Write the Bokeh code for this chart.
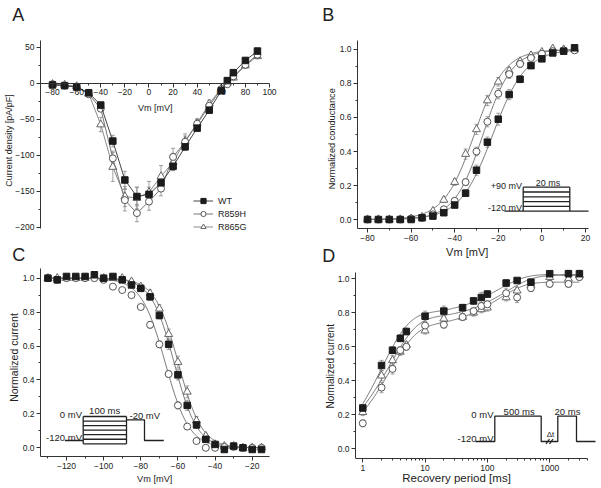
import math
import numpy as np
from bokeh.plotting import figure
from bokeh.models import (Range1d, Whisker, ColumnDataSource, Label, Legend, LegendItem,
                          FixedTicker, PrintfTickFormatter, TeeHead)
from bokeh.layouts import row, column
from bokeh.embed import file_html
from bokeh.resources import INLINE

FONT = "Liberation Sans"
TXT = "#222222"
AXC = "#333333"
FIT = "#6a6a6a"
ERR = "#8a8a8a"
INS = "#222222"

series = ["WT", "R859H", "R865G"]
markers = ["square", "circle", "triangle"]
fills = ["#1c1c1c", "white", "white"]
edges = ["#1c1c1c", "#555555", "#666666"]
msizes = [6.5, 7, 8]
line_cols = ["#444444", "#777777", "#8a8a8a"]

# ---------------- Panel A: current density vs voltage ----------------
a_vm = [-80, -70, -60, -50, -40, -30, -20, -10, 0, 10, 20, 30, 40, 50, 60, 65, 70, 80, 90]
a_wt = [-2, -3, -5, -13, -30, -80, -134, -157, -154, -138, -115, -88, -62, -37, -10, 4, 15, 32, 45]
a_r859h = [-1, -3, -5, -15, -35, -104, -162, -180, -164, -146, -102, -81, -56, -31, -8, -1, 10, 26, 40]
a_r865g = [-1, -2, -4, -14, -57, -116, -157, -159, -151, -129, -109, -80, -55, -28, -7, 1, 8, 25, 38]
a_wt_err = [1, 1, 1, 2, 3, 8, 12, 13, 10, 10, 6, 5, 4, 3, 3, 2, 3, 4, 4]
a_r859h_err = [1, 1, 1, 2, 4, 10, 15, 12, 12, 10, 12, 8, 6, 4, 3, 2, 3, 4, 4]
a_r865g_err = [1, 1, 1, 2, 10, 20, 14, 15, 15, 15, 12, 10, 6, 5, 3, 2, 3, 4, 4]

# ---------------- Panel B: activation ----------------
b_vm = [-80, -75, -70, -65, -60, -55, -50, -45, -40, -35, -30, -25, -20, -15, -10, -5, 0, 5, 10, 15]
b_wt = [0.0, 0.0, 0.0, 0.0, 0.0, 0.01, 0.02, 0.04, 0.085, 0.155, 0.29, 0.455, 0.59, 0.735, 0.825, 0.905, 0.945, 0.98, 0.99, 1.01]
b_r859h = [0.0, 0.0, 0.0, 0.0, 0.005, 0.01, 0.03, 0.06, 0.11, 0.22, 0.40, 0.575, 0.74, 0.855, 0.915, 0.95, 0.975, 0.99, 0.995, 0.995]
b_r865g = [0.0, 0.0, 0.0, 0.0, 0.005, 0.015, 0.05, 0.115, 0.22, 0.385, 0.53, 0.70, 0.81, 0.875, 0.93, 0.965, 0.985, 1.005, 1.0, 1.0]
b_wt_err = [0.005, 0.005, 0.005, 0.005, 0.005, 0.005, 0.01, 0.01, 0.015, 0.02, 0.03, 0.03, 0.035, 0.03, 0.02, 0.015, 0.01, 0.01, 0.005, 0.005]
b_r859h_err = [0.005, 0.005, 0.005, 0.005, 0.005, 0.005, 0.01, 0.01, 0.015, 0.02, 0.025, 0.03, 0.03, 0.025, 0.02, 0.015, 0.01, 0.01, 0.005, 0.005]
b_r865g_err = [0.005, 0.005, 0.005, 0.005, 0.005, 0.005, 0.01, 0.015, 0.02, 0.03, 0.03, 0.03, 0.025, 0.02, 0.015, 0.01, 0.01, 0.01, 0.005, 0.005]
b_vhalf = [-22.5, -27.0, -31.0]
b_slope = [7.5, 6.6, 7.0]

# ---------------- Panel C: steady-state inactivation ----------------
c_vm = [-130, -125, -120, -115, -110, -105, -100, -95, -90, -85, -80, -75, -70, -65, -60, -55, -50, -45, -40, -35, -30, -25, -20, -15]
c_wt = [1.0, 0.99, 1.01, 1.01, 1.01, 1.02, 1.0, 1.01, 0.99, 0.96, 0.94, 0.89, 0.78, 0.61, 0.43, 0.25, 0.135, 0.05, 0.02, -0.01, 0.01, 0.0, -0.01, -0.01]
c_r859h = [1.0, 0.99, 1.0, 1.0, 1.0, 1.0, 0.99, 0.95, 0.93, 0.90, 0.83, 0.725, 0.61, 0.435, 0.25, 0.125, 0.04, 0.0, 0.0, 0.005, 0.005, 0.0, 0.0, 0.0]
c_r865g = [1.0, 1.0, 1.0, 1.0, 1.0, 1.01, 1.0, 1.0, 1.0, 0.98, 0.95, 0.91, 0.82, 0.67, 0.505, 0.33, 0.16, 0.07, 0.02, 0.01, 0.01, 0.0, 0.0, 0.0]
c_wt_err = [0.01, 0.01, 0.01, 0.01, 0.01, 0.01, 0.01, 0.01, 0.01, 0.015, 0.015, 0.02, 0.02, 0.03, 0.03, 0.03, 0.02, 0.015, 0.01, 0.01, 0.01, 0.01, 0.01, 0.01]
c_r859h_err = [0.01, 0.01, 0.01, 0.01, 0.01, 0.01, 0.01, 0.01, 0.01, 0.01, 0.015, 0.02, 0.02, 0.02, 0.02, 0.015, 0.01, 0.01, 0.01, 0.01, 0.01, 0.01, 0.01, 0.01]
c_r865g_err = [0.01, 0.01, 0.01, 0.01, 0.01, 0.01, 0.01, 0.01, 0.01, 0.015, 0.015, 0.02, 0.025, 0.03, 0.035, 0.035, 0.025, 0.015, 0.01, 0.01, 0.01, 0.01, 0.01, 0.01]
c_vhalf = [-62.0, -66.8, -59.8]
c_slope = [6.2, 6.5, 6.3]

# ---------------- Panel D: recovery from inactivation ----------------
d_t = [1, 2, 3, 4, 5, 10, 20, 40, 60, 80, 100, 200, 300, 500, 1000, 2000, 3000]
d_wt = [0.24, 0.49, 0.58, 0.65, 0.69, 0.78, 0.81, 0.83, 0.87, 0.89, 0.91, 0.975, 0.99, 0.98, 1.03, 1.03, 1.03]
d_r859h = [0.15, 0.36, 0.47, 0.58, 0.60, 0.725, 0.73, 0.775, 0.81, 0.84, 0.85, 0.915, 0.89, 0.945, 0.97, 0.97, 1.01]
d_r865g = [0.215, 0.43, 0.52, 0.57, 0.61, 0.695, 0.765, 0.775, 0.80, 0.82, 0.83, 0.89, 0.93, 0.96, 1.01, 1.0, 1.02]
d_wt_err = [0.02, 0.03, 0.02, 0.02, 0.02, 0.03, 0.03, 0.02, 0.02, 0.03, 0.02, 0.02, 0.01, 0.02, 0.01, 0.02, 0.02]
d_r859h_err = [0.02, 0.03, 0.03, 0.02, 0.02, 0.02, 0.02, 0.02, 0.02, 0.02, 0.02, 0.03, 0.03, 0.02, 0.02, 0.02, 0.02]
d_r865g_err = [0.02, 0.03, 0.03, 0.02, 0.02, 0.02, 0.02, 0.02, 0.02, 0.02, 0.02, 0.02, 0.02, 0.02, 0.02, 0.02, 0.02]
d_plateau = [1.025, 0.98, 1.02]
d_amp_fast = [0.86, 0.726, 0.75]
d_tau_fast = [2.0, 2.64, 2.67]
d_amp_slow = [0.24, 0.269, 0.26]
d_tau_slow = [150.0, 150.0, 200.0]

# ---------------- layout geometry (picture pixels) ----------------
# page: figure rectangle (left, top, width, height); frame: axis box (L, R, T, B)
GA = dict(page=(0, 0, 300, 240), frame=(40, 269, 40, 228), x=(-90.0, 100.0), y=(-201.4, 59.7), log=False)
GB = dict(page=(300, 0, 300, 268), frame=(357, 588, 40, 228), x=(-84.6, 21.4), y=(-0.0529, 1.0529), log=False)
GC = dict(page=(0, 240, 300, 247), frame=(40, 269, 268, 456), x=(-134.0, -10.7), y=(-0.0513, 1.057), log=False)
GD = dict(page=(300, 268, 300, 219), frame=(355, 587, 272, 458), x=(0.764, 4045.0), y=(-0.057, 1.037), log=True)


def to_data(g, px, py):
    L, R, T, B = g["frame"]
    x0, x1 = g["x"]
    y0, y1 = g["y"]
    if g["log"]:
        l0, l1 = math.log10(x0), math.log10(x1)
        x = 10 ** (l0 + (px - L) / (R - L) * (l1 - l0))
    else:
        x = x0 + (px - L) / (R - L) * (x1 - x0)
    y = y1 - (py - T) / (B - T) * (y1 - y0)
    return x, y


def make_panel(g, x_axis_at=None):
    pl, pt, w, h = g["page"]
    xs, ye = to_data(g, pl, pt)
    xe, ys = to_data(g, pl + w, pt + h)
    p = figure(width=w, height=h, x_range=Range1d(xs, xe), y_range=Range1d(ys, ye),
               x_axis_type="log" if g["log"] else "linear",
               output_backend="svg", toolbar_location=None,
               min_border=0, min_border_left=0, min_border_right=0,
               min_border_top=0, min_border_bottom=0)
    p.grid.visible = False
    p.outline_line_color = None
    p.background_fill_color = "white"
    p.border_fill_color = "white"
    x0, x1 = g["x"]
    y0, y1 = g["y"]
    p.xaxis.fixed_location = y0 if x_axis_at is None else x_axis_at
    p.xaxis.bounds = (x0, x1)
    p.yaxis.fixed_location = x0
    p.yaxis.bounds = (y0, y1)
    for ax in (p.xaxis[0], p.yaxis[0]):
        ax.axis_line_color = AXC
        ax.axis_line_width = 1
        ax.major_tick_line_color = AXC
        ax.minor_tick_line_color = AXC
        ax.major_tick_in = 0
        ax.major_tick_out = 4
        ax.minor_tick_in = 0
        ax.minor_tick_out = 2
        ax.major_label_text_font = FONT
        ax.major_label_text_font_size = "8.5px"
        ax.major_label_text_color = TXT
        ax.major_label_standoff = 2
    return p


def add_text(p, g, text, px, py, size, align="center", angle=0.0):
    """(px, py): picture position of the text baseline; rendered centred on the caps."""
    s = float(size.replace("px", ""))
    off = 0.35 * s
    if angle == 0.0:
        py = py - off
    else:
        px = px - off
    x, y = to_data(g, px, py)
    p.add_layout(Label(x=x, y=y, text=text, text_font=FONT, text_font_size=size,
                       text_color=TXT, text_align=align, text_baseline="middle", angle=angle))


def add_err(p, x, y, e):
    src = ColumnDataSource(dict(x=x, lower=[a - b for a, b in zip(y, e)],
                                upper=[a + b for a, b in zip(y, e)]))
    p.add_layout(Whisker(source=src, base="x", lower="lower", upper="upper",
                         line_color=ERR, line_width=0.8,
                         upper_head=TeeHead(size=4, line_color=ERR, line_width=0.8),
                         lower_head=TeeHead(size=4, line_color=ERR, line_width=0.8)))


def add_points(p, i, x, y):
    return p.scatter(x, y, marker=markers[i], size=msizes[i], fill_color=fills[i],
                     line_color=edges[i], line_width=1)


def add_inset(p, g, paths, texts, size):
    xs, ys = [], []
    for path in paths:
        pts = [to_data(g, a, b) for a, b in path]
        xs.append([q[0] for q in pts])
        ys.append([q[1] for q in pts])
    p.multi_line(xs, ys, line_color=INS, line_width=1.3)
    for t, px, py, al in texts:
        add_text(p, g, t, px, py, size, align=al)


major_y01 = [0.0, 0.2, 0.4, 0.6, 0.8, 1.0]
minor_y01 = [0.1, 0.3, 0.5, 0.7, 0.9]

# ================= Panel A =================
pA = make_panel(GA, x_axis_at=0)
pA.xaxis.ticker = FixedTicker(ticks=list(range(-80, 101, 20)), minor_ticks=list(range(-90, 100, 20)))
pA.yaxis.ticker = FixedTicker(ticks=[-200, -150, -100, -50, 0, 50], minor_ticks=[-175, -125, -75, -25, 25])
a_sets = [(a_wt, a_wt_err), (a_r859h, a_r859h_err), (a_r865g, a_r865g_err)]
legend_items = []
for i in (2, 1, 0):
    y, e = a_sets[i]
    add_err(pA, a_vm, y, e)
for i in (2, 1, 0):
    y, e = a_sets[i]
    ln = pA.line(a_vm, y, line_color=line_cols[i], line_width=1)
    sc = add_points(pA, i, a_vm, y)
    legend_items.append((i, LegendItem(label=series[i], renderers=[ln, sc])))
legend_items.sort(key=lambda t: t[0])
leg = Legend(items=[it for _, it in legend_items], location=(193, 7), orientation="vertical",
             padding=0, margin=0, spacing=0, glyph_width=20, glyph_height=13, label_height=13,
             label_standoff=5, label_text_font=FONT, label_text_font_size="9px",
             label_text_color=TXT, border_line_color=None, background_fill_alpha=0)
pA.add_layout(leg)
add_text(pA, GA, "A", 11.7, 20.7, "18px", align="left")
add_text(pA, GA, "Vm [mV]", 154.8, 111, "9px")
add_text(pA, GA, "Current density [pA/pF]", 11.4, 140, "9px", angle=math.pi / 2)

# ================= Panel B =================
pB = make_panel(GB)
pB.xaxis.ticker = FixedTicker(ticks=list(range(-80, 21, 20)), minor_ticks=list(range(-70, 20, 20)))
pB.yaxis.ticker = FixedTicker(ticks=major_y01, minor_ticks=minor_y01)
pB.yaxis.formatter = PrintfTickFormatter(format="%.1f")
b_fit_v = np.linspace(-80, 15, 240)
for i in range(3):
    g_fit = 1.0 / (1.0 + np.exp((b_vhalf[i] - b_fit_v) / b_slope[i]))
    pB.line(b_fit_v, g_fit, line_color=FIT, line_width=0.9)
b_sets = [(b_wt, b_wt_err), (b_r859h, b_r859h_err), (b_r865g, b_r865g_err)]
for i in (2, 1, 0):
    add_err(pB, b_vm, *b_sets[i])
for i in (2, 1, 0):
    add_points(pB, i, b_vm, b_sets[i][0])
add_inset(pB, GB,
          [[(504, 210.7), (522.7, 210.7)],
           [(522.7, 186.7), (522.7, 210.7)],
           [(569.3, 186.7), (569.3, 210.7)],
           [(569.3, 210.7), (588, 210.7)]] +
          [[(522.7, yy), (569.3, yy)] for yy in (186.7, 191.5, 196.3, 201.1, 205.9, 210.7)],
          [("+90 mV", 521.5, 188.5, "right"), ("-120 mV", 521.5, 210.2, "right"),
           ("20 ms", 547.5, 185.5, "center")], "9px")
add_text(pB, GB, "B", 321.7, 20.7, "18px", align="left")
add_text(pB, GB, "D", 321.7, 261.7, "18px", align="left")
add_text(pB, GB, "Vm [mV]", 466.7, 255.5, "11px")
add_text(pB, GB, "Normalized conductance", 335, 138.3, "9.2px", angle=math.pi / 2)

# ================= Panel C =================
pC = make_panel(GC)
pC.xaxis.ticker = FixedTicker(ticks=list(range(-120, -19, 20)), minor_ticks=list(range(-130, -19, 20)))
pC.yaxis.ticker = FixedTicker(ticks=major_y01, minor_ticks=minor_y01)
pC.yaxis.formatter = PrintfTickFormatter(format="%.1f")
c_fit_v = np.linspace(-130, -15, 240)
for i in range(3):
    h_fit = 1.0 / (1.0 + np.exp((c_fit_v - c_vhalf[i]) / c_slope[i]))
    pC.line(c_fit_v, h_fit, line_color=FIT, line_width=0.9)
c_sets = [(c_wt, c_wt_err), (c_r859h, c_r859h_err), (c_r865g, c_r865g_err)]
for i in (2, 1, 0):
    add_err(pC, c_vm, *c_sets[i])
for i in (2, 1, 0):
    add_points(pC, i, c_vm, c_sets[i][0])
c_levels = [416, 420.55, 425.1, 429.65, 434.2, 438.75, 443.3]
add_inset(pC, GC,
          [[(64.3, 440), (82.7, 440)],
           [(82.7, 416), (82.7, 443.3)],
           [(126, 416), (126, 443.3)],
           [(126, 419.3), (144, 419.3), (144, 440), (163.3, 440)]] +
          [[(82.7, yy), (126, yy)] for yy in c_levels],
          [("0 mV", 81.5, 417.5, "right"), ("100 ms", 104.2, 413.5, "center"),
           ("-20 mV", 129, 418.5, "left"), ("-120 mV", 81.5, 440, "right")], "9.5px")
add_text(pC, GC, "C", 11.7, 260.7, "18px", align="left")
add_text(pC, GC, "Vm [mV]", 154.2, 481.5, "9.2px")
add_text(pC, GC, "Normalized current", 17.5, 357, "10.5px", angle=math.pi / 2)

# ================= Panel D =================
pD = make_panel(GD)
d_minor = [2, 3, 4, 5, 6, 7, 8, 9, 20, 30, 40, 50, 60, 70, 80, 90,
           200, 300, 400, 500, 600, 700, 800, 900, 2000, 3000, 4000]
pD.xaxis.ticker = FixedTicker(ticks=[1, 10, 100, 1000], minor_ticks=d_minor)
pD.xaxis.formatter = PrintfTickFormatter(format="%d")
pD.yaxis.ticker = FixedTicker(ticks=major_y01, minor_ticks=minor_y01)
pD.yaxis.formatter = PrintfTickFormatter(format="%.1f")
d_fit_t = np.logspace(0, math.log10(3000), 240)
for i in range(3):
    r_fit = (d_plateau[i] - d_amp_fast[i] * np.exp(-d_fit_t / d_tau_fast[i])
             - d_amp_slow[i] * np.exp(-d_fit_t / d_tau_slow[i]))
    pD.line(d_fit_t, r_fit, line_color=FIT, line_width=0.9)
d_sets = [(d_wt, d_wt_err), (d_r859h, d_r859h_err), (d_r865g, d_r865g_err)]
for i in (2, 1, 0):
    add_err(pD, d_t, *d_sets[i])
for i in (2, 1, 0):
    add_points(pD, i, d_t, d_sets[i][0])
add_inset(pD, GD,
          [[(475, 441), (494.3, 441), (494.3, 415.7), (540.7, 415.7), (540.7, 441),
            (557.3, 441), (557.3, 415.7), (576, 415.7), (576, 441), (595, 441)],
           [(545.5, 443.5), (549, 438.5)], [(549, 443.5), (552.5, 438.5)]],
          [("0 mV", 493, 417.5, "right"), ("500 ms", 518.7, 414, "center"),
           ("20 ms", 567, 414, "center"), ("-120 mV", 493, 441, "right")], "9.5px")
add_text(pD, GD, "Δt", 550, 436.5, "8px")
add_text(pD, GD, "Normalized current", 333.9, 365.8, "10px", angle=math.pi / 2)
add_text(pD, GD, "Recovery period [ms]", 456, 481.5, "11.5px")

layout = row(column(pA, pC), column(pB, pD))
open("out.html", "w").write(file_html(layout, INLINE))
